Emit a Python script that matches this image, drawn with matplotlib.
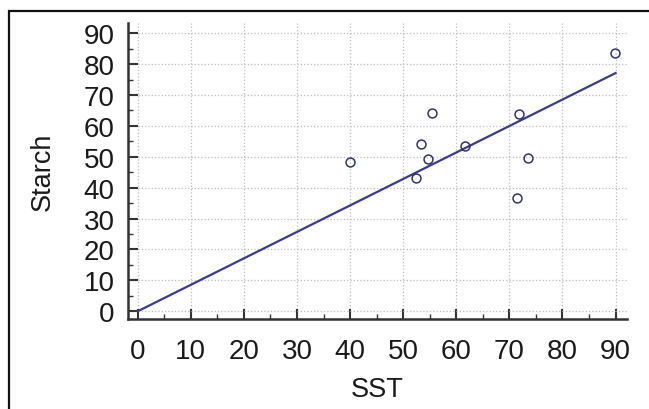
import numpy as np
import matplotlib
matplotlib.use("Agg")
import matplotlib.pyplot as plt
from matplotlib.patches import Rectangle
from matplotlib.ticker import MultipleLocator

plt.rcParams['font.family'] = ['Liberation Sans', 'DejaVu Sans']

sst = [40.0, 52.4, 53.4, 54.7, 55.4, 61.6, 71.4, 71.9, 73.6, 89.9]
starch = [48.2, 43.2, 54.1, 49.2, 64.1, 53.5, 36.6, 63.7, 49.5, 83.5]
ticks = list(range(0, 100, 10))

x = np.array(sst)
y = np.array(starch)
# least squares line through the origin
slope = np.sum(x * y) / np.sum(x * x)

fig = plt.figure(figsize=(6.49, 4.10), dpi=100)
ax = fig.add_axes([0.1977, 0.2195, 0.7679, 0.722])

# outer frame, cut off at right and bottom like the source image
fig.patches.append(Rectangle((9 / 649, -0.1), 1.2, 1.1 - 12 / 410,
                             transform=fig.transFigure, fill=False,
                             edgecolor='#111111', linewidth=1.6))

navy = '#3b3b8a'
xl = np.array([0, 90])
ax.plot(xl, slope * xl, color=navy, linewidth=1.6, zorder=3)
ax.plot(sst, starch, 'o', markerfacecolor='none', markeredgecolor='#33336b',
        markersize=6.4, markeredgewidth=1.1, zorder=4)

ax.set_xlim(-1.77, 92.1)
ax.set_ylim(-2.5, 93.3)
ax.set_xticks(ticks)
ax.set_yticks(ticks)
ax.xaxis.set_minor_locator(MultipleLocator(5))
ax.yaxis.set_minor_locator(MultipleLocator(5))

ax.grid(True, which='major', color='#bdbdbd', linestyle=':', linewidth=0.9)
ax.set_axisbelow(True)

for s in ['top', 'right']:
    ax.spines[s].set_visible(False)
for s in ['left', 'bottom']:
    ax.spines[s].set_color('#333333')
    ax.spines[s].set_linewidth(1.8)

ax.tick_params(which='major', direction='in', length=7, width=1.5,
               color='#333333', labelsize=20, labelcolor='#1a1a1a')
ax.tick_params(axis='x', which='major', pad=14)
ax.tick_params(axis='y', which='major', pad=10)
ax.tick_params(which='minor', direction='in', length=3.5, width=1.0,
               color='#333333')

ax.set_xlabel('SST', fontsize=19.5, color='#1a1a1a', labelpad=8)
ax.set_ylabel('Starch', fontsize=19.5, color='#1a1a1a', labelpad=20)

fig.savefig('out.png', dpi=100, facecolor='white')
